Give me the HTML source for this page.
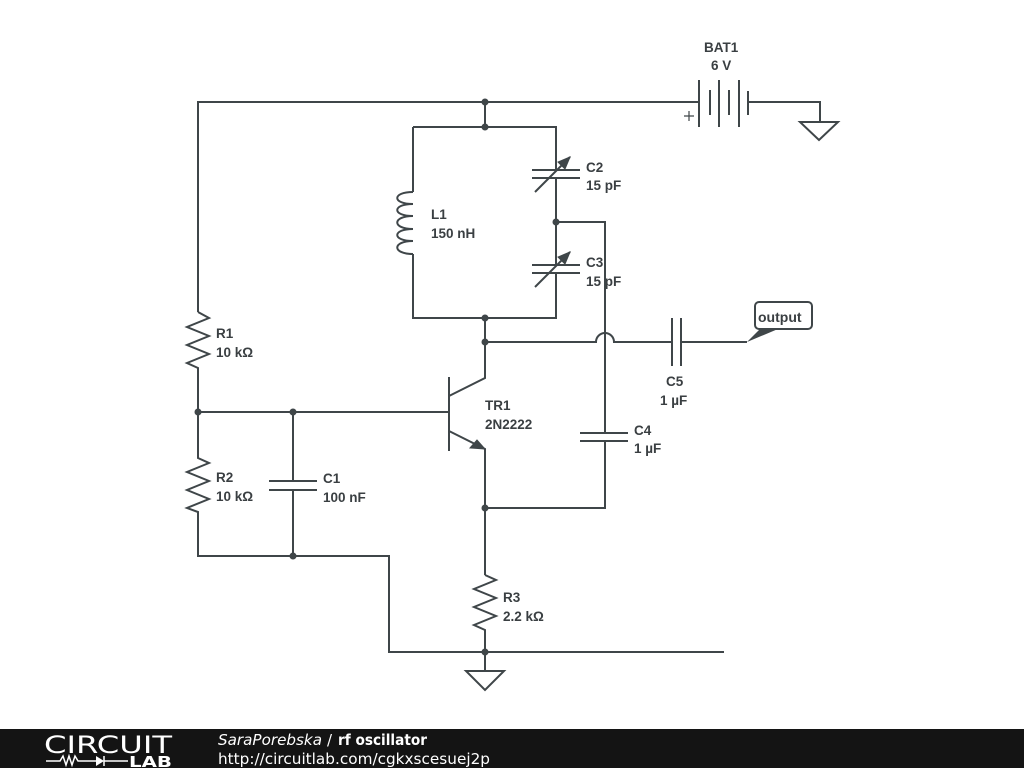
<!DOCTYPE html>
<html><head><meta charset="utf-8"><style>
html,body{margin:0;padding:0;background:#fff;width:1024px;height:768px;overflow:hidden}
svg{display:block}
text{font-family:"Liberation Sans",sans-serif;font-weight:bold;font-size:13.5px;fill:#3a3f42}
.ft{font-family:"DejaVu Sans",sans-serif;fill:#fff}
</style></head><body>
<svg width="1024" height="768" viewBox="0 0 1024 768">
<g fill="none" stroke="#3f4649" stroke-width="2" stroke-linejoin="miter">
<path d="M198 312 V102 H699"/>
<path d="M748 102 H820 V122"/>
<path d="M800 122 H838 L819 140 Z"/>
<path d="M699 80V127 M710 90V115 M719 80V127 M729 90V115 M739 80V127 M748 91V115"/>
<path d="M684 116H694 M689 111V121" stroke-width="1.2"/>
<path d="M485 102V127 M413 127H556V170 M413 127V192 M413 254V318H556V273 M556 178V265"/>
<path d="M413 192 C392 192 392 204 413 204 C392 204 392 216 413 216 C392 216 392 229 413 229 C392 229 392 241 413 241 C392 241 392 254 413 254" />
<path d="M532 170H580 M532 178H580 M532 265H580 M532 273H580"/>
<path d="M535 192L570 157 M535 287L570 252"/>
<path d="M556 222H605V433 M605 441V508H485"/>
<path d="M485 318V378 L449 396 M485 342H596 A9 9 0 0 1 614 342 H672 M681 342H747"/>
<path d="M672 318V366 M681 318V366"/>
<path d="M580 433H628 M580 441H628"/>
<path d="M449 377V451 M198 412H449 M449 431L485 449V575"/>
<path d="M198 312 L209 318 L187 327 L209 336 L187 345 L209 354 L187 363 L198 368 V458 L209 463 L187 472 L209 481 L187 490 L209 499 L187 508 L198 512 V556 H389 V652 H724"/>
<path d="M293 412V481 M293 490V556 M269 481H317 M269 490H317"/>
<path d="M485 575 L496 580 L474 589 L496 598 L474 607 L496 616 L474 625 L485 630 V671"/>
<path d="M466 671H504L485 690Z"/>
</g>
<path d="M747 342 L760 329 H778 Z" fill="#3f4649"/>
<path d="M570 157 L558 162 L565 169 Z M570 252 L558 257 L565 264 Z M485 449 L470 448 L477 440 Z" fill="#3f4649" stroke="#3f4649"/>
<g fill="#3f4649">
<circle cx="485" cy="102" r="3.5"/><circle cx="485" cy="127" r="3.5"/><circle cx="556" cy="222" r="3.5"/>
<circle cx="485" cy="318" r="3.5"/><circle cx="485" cy="342" r="3.5"/><circle cx="198" cy="412" r="3.5"/>
<circle cx="293" cy="412" r="3.5"/><circle cx="293" cy="556" r="3.5"/><circle cx="485" cy="508" r="3.5"/>
<circle cx="485" cy="652" r="3.5"/>
</g>
<rect x="755" y="302" width="57" height="27" rx="4" fill="#fff" stroke="#3f4649" stroke-width="2"/>
<text x="758" y="322" style="font-size:14px">output</text>
<text x="704" y="52">BAT1</text><text x="711" y="70">6 V</text>
<text x="586" y="172">C2</text><text x="586" y="190">15 pF</text>
<text x="431" y="219">L1</text><text x="431" y="238">150 nH</text>
<text x="586" y="267">C3</text><text x="586" y="286">15 pF</text>
<text x="216" y="338">R1</text><text x="216" y="357">10 kΩ</text>
<text x="485" y="410">TR1</text><text x="485" y="429">2N2222</text>
<text x="634" y="435">C4</text><text x="634" y="453">1 µF</text>
<text x="666" y="386">C5</text><text x="660" y="405">1 µF</text>
<text x="216" y="482">R2</text><text x="216" y="501">10 kΩ</text>
<text x="323" y="483">C1</text><text x="323" y="502">100 nF</text>
<text x="503" y="602">R3</text><text x="503" y="621">2.2 kΩ</text>
<rect x="0" y="729" width="1024" height="39" fill="#141414"/>
<text class="ft" x="44" y="753" textLength="128" lengthAdjust="spacingAndGlyphs" style="font-weight:normal;font-size:24px">CIRCUIT</text>
<path d="M46 761H60 L63 756 L66 765 L69 756 L72 765 L75 756 L78 761 H96 M104 756V766 M104 761H128" stroke="#fff" stroke-width="1.5" fill="none"/>
<path d="M96 756V766 L104 761 Z" fill="#fff"/>
<text class="ft" x="129" y="767" textLength="43" lengthAdjust="spacingAndGlyphs" style="font-size:15px;font-weight:bold">LAB</text>
<text class="ft" x="218" y="745" textLength="104" lengthAdjust="spacingAndGlyphs" style="font-weight:normal;font-style:italic;font-size:15px">SaraPorebska</text>
<text class="ft" x="327" y="745" style="font-weight:normal;font-size:15px">/</text>
<text class="ft" x="338" y="745" textLength="89" lengthAdjust="spacingAndGlyphs" style="font-weight:bold;font-size:15px">rf oscillator</text>
<text class="ft" x="218" y="764" textLength="272" lengthAdjust="spacingAndGlyphs" style="font-weight:normal;font-size:15px">http://circuitlab.com/cgkxscesuej2p</text>
</svg>
</body></html>
